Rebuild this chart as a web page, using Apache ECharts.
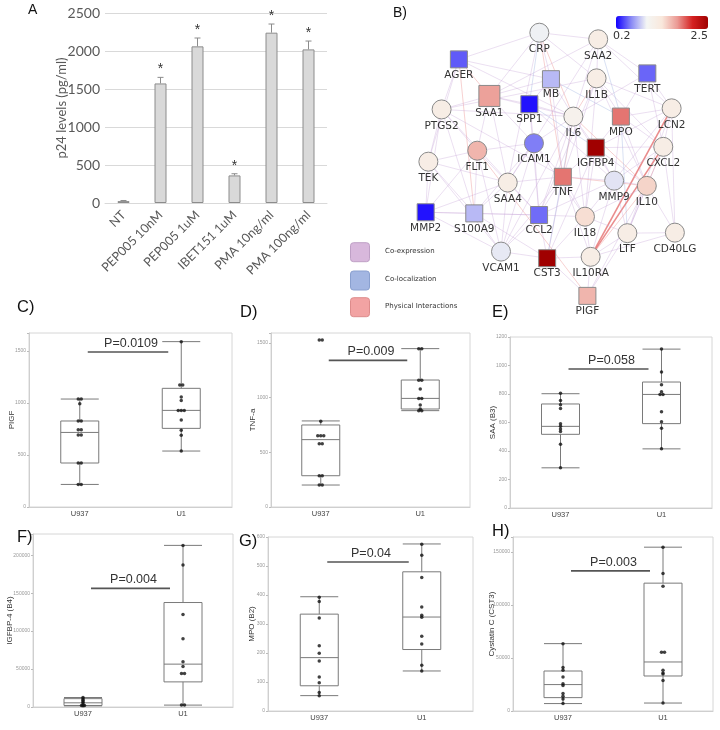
<!DOCTYPE html>
<html>
<head>
<meta charset="utf-8">
<script src="https://cdn.jsdelivr.net/npm/echarts@6/dist/echarts.min.js"></script>
<style>
  html, body { margin: 0; padding: 0; background: #fff; }
  #chart { width: 720px; height: 730px; }
</style>
</head>
<body>
<div id="chart"></div>
<script>
// ---------- A) p24 bar chart ----------
const aCats = ['NT', 'PEP005 10nM', 'PEP005 1uM', 'IBET151 1uM', 'PMA 10ng/ml', 'PMA 100ng/ml'];
const aP24 = [25, 1573, 2061, 363, 2241, 2021];
const aErr = [8, 80, 110, 22, 114, 110];
const aStar = [0, 1, 1, 1, 1, 1];

// ---------- B) gene network ----------
const geneNames = ['CRP', 'SAA2', 'AGER', 'MB', 'IL1B', 'TERT', 'SAA1', 'SPP1', 'PTGS2', 'IL6', 'MPO', 'LCN2',
  'ICAM1', 'IGFBP4', 'FLT1', 'TEK', 'CXCL2', 'TNF', 'SAA4', 'MMP9', 'IL10', 'MMP2', 'S100A9', 'CCL2', 'IL18',
  'LTF', 'CD40LG', 'VCAM1', 'CST3', 'IL10RA', 'PIGF'];
// layout units (0-100)
const geneX = [44.2, 66.0, 14.4, 48.5, 65.4, 84.2, 25.7, 40.5, 8.0, 56.8, 74.4, 93.2, 42.2, 65.1, 21.2, 3.1, 90.1,
  52.9, 32.5, 71.9, 84.0, 2.1, 20.1, 44.1, 61.1, 76.8, 94.4, 30.0, 47.1, 63.2, 62.0];
const geneY = [2.8, 5.2, 12.5, 19.7, 19.4, 17.6, 25.8, 28.8, 30.7, 33.3, 33.3, 30.3, 43.0, 44.6, 45.7, 49.7, 44.3,
  55.2, 57.3, 56.6, 58.5, 68.1, 68.5, 69.1, 69.7, 75.7, 75.5, 82.4, 84.8, 84.3, 98.5];
const geneFold = [0.95, 1.2, 0.45, 0.75, 1.2, 0.48, 1.7, 0.25, 1.2, 1.1, 1.85, 1.2, 0.55, 2.5, 1.6, 1.2, 1.2,
  1.85, 1.2, 0.9, 1.45, 0.25, 0.75, 0.5, 1.4, 1.2, 1.2, 0.92, 2.5, 1.2, 1.6];
// s = measured (square), c = network gene (circle)
const geneKind = ['c', 'c', 's', 's', 'c', 's', 's', 's', 'c', 'c', 's', 'c', 'c', 's', 'c', 'c', 'c',
  's', 'c', 'c', 'c', 's', 's', 's', 'c', 'c', 'c', 'c', 's', 'c', 's'];
const foldRange = [0.2, 2.5];
const edgeTypes = ['Co-expression', 'Co-localization', 'Physical Interactions'];
// e co-expression, l co-localization, p physical, P strong physical
const edgeList = [
  ['CRP','SAA1','e'],['CRP','SAA2','e'],['CRP','SAA4','e'],['CRP','IL6','p'],['CRP','MB','e'],['CRP','TNF','p'],['CRP','IL1B','e'],['CRP','AGER','e'],['CRP','SPP1','l'],
  ['SAA2','SAA1','e'],['SAA2','SAA4','e'],['SAA2','IL1B','e'],['SAA2','LCN2','e'],['SAA2','MPO','l'],['SAA2','TERT','e'],['SAA2','IL6','e'],
  ['AGER','SAA1','p'],['AGER','PTGS2','e'],['AGER','MB','e'],['AGER','TEK','e'],['AGER','S100A9','p'],['AGER','IL6','e'],
  ['MB','IL6','e'],['MB','SPP1','e'],['MB','TNF','e'],['MB','MPO','l'],['MB','SAA1','e'],
  ['IL1B','IL6','p'],['IL1B','TNF','e'],['IL1B','IL18','e'],['IL1B','PTGS2','e'],['IL1B','CXCL2','e'],['IL1B','IL10','e'],['IL1B','MPO','e'],['IL1B','LCN2','e'],['IL1B','CCL2','e'],
  ['TERT','LCN2','e'],['TERT','IL6','e'],['TERT','MPO','e'],['TERT','CXCL2','e'],
  ['SAA1','SAA4','e'],['SAA1','SPP1','e'],['SAA1','PTGS2','e'],['SAA1','FLT1','e'],['SAA1','ICAM1','e'],['SAA1','IL6','e'],
  ['SPP1','ICAM1','e'],['SPP1','CCL2','e'],['SPP1','IL6','e'],['SPP1','MMP9','e'],['SPP1','IGFBP4','l'],
  ['PTGS2','TEK','e'],['PTGS2','IL6','e'],['PTGS2','TNF','e'],['PTGS2','FLT1','e'],['PTGS2','CCL2','e'],['PTGS2','MMP2','e'],['PTGS2','S100A9','e'],
  ['IL6','TNF','p'],['IL6','IL10','p'],['IL6','CCL2','e'],['IL6','ICAM1','e'],['IL6','IGFBP4','e'],['IL6','MMP9','e'],['IL6','IL18','e'],['IL6','VCAM1','e'],['IL6','CST3','l'],
  ['MPO','LCN2','e'],['MPO','IGFBP4','e'],['MPO','CXCL2','e'],['MPO','MMP9','e'],['MPO','LTF','l'],['MPO','IL10','e'],
  ['LCN2','CXCL2','e'],['LCN2','IL10RA','P'],['LCN2','IGFBP4','e'],['LCN2','LTF','e'],['LCN2','CD40LG','e'],['LCN2','MMP9','e'],
  ['ICAM1','VCAM1','e'],['ICAM1','TNF','e'],['ICAM1','FLT1','e'],['ICAM1','CCL2','e'],['ICAM1','SAA4','e'],['ICAM1','IL18','e'],['ICAM1','S100A9','e'],
  ['IGFBP4','TNF','e'],['IGFBP4','MMP9','e'],['IGFBP4','IL10','e'],['IGFBP4','CST3','e'],['IGFBP4','IL18','e'],['IGFBP4','CXCL2','e'],
  ['FLT1','TEK','e'],['FLT1','SAA4','e'],['FLT1','MMP2','e'],['FLT1','VCAM1','e'],['FLT1','S100A9','e'],['FLT1','PIGF','p'],
  ['TEK','MMP2','e'],['TEK','S100A9','e'],['TEK','SAA4','e'],['TEK','VCAM1','e'],
  ['CXCL2','IL10','p'],['CXCL2','IL10RA','P'],['CXCL2','CD40LG','e'],['CXCL2','LTF','e'],['CXCL2','MMP9','e'],
  ['TNF','MMP9','e'],['TNF','IL10','p'],['TNF','CCL2','e'],['TNF','IL18','e'],['TNF','SAA4','e'],['TNF','CST3','e'],['TNF','IL10RA','e'],['TNF','VCAM1','e'],
  ['SAA4','S100A9','e'],['SAA4','CCL2','e'],['SAA4','VCAM1','e'],['SAA4','MMP2','e'],
  ['MMP9','IL10','e'],['MMP9','IL18','e'],['MMP9','LTF','e'],['MMP9','IL10RA','e'],['MMP9','CCL2','e'],
  ['IL10','LTF','e'],['IL10','CD40LG','e'],['IL10','IL10RA','p'],['IL10','IL18','e'],['IL10','PIGF','e'],
  ['MMP2','S100A9','e'],['MMP2','VCAM1','e'],['MMP2','CCL2','e'],
  ['S100A9','CCL2','e'],['S100A9','VCAM1','e'],['S100A9','CST3','e'],
  ['CCL2','IL18','e'],['CCL2','VCAM1','e'],['CCL2','CST3','e'],
  ['IL18','IL10RA','e'],['IL18','CST3','e'],['IL18','LTF','e'],
  ['LTF','CD40LG','e'],['LTF','IL10RA','e'],['LTF','PIGF','e'],
  ['CD40LG','IL10RA','e'],['VCAM1','CST3','e'],['CST3','IL10RA','e'],
  ['PIGF','IL10RA','e'],['PIGF','CST3','e']
];

// ---------- C)-H) box plots ----------
const boxGroups = ['U937', 'U1'];
const plgfU937 = [1038, 1038, 993, 827, 827, 743, 743, 692, 692, 423, 423, 217, 217];
const plgfU1 = [1590, 1173, 1173, 1058, 1025, 929, 929, 929, 837, 737, 689, 538];
const plgfBox = [[217, 423, 717, 827, 1038], [538, 756, 929, 1141, 1590]];

const tnfU937 = [1527, 1527, 785, 652, 652, 652, 579, 579, 286, 286, 201, 201];
const tnfU1 = [1448, 1448, 1160, 1160, 1079, 993, 993, 933, 895, 881, 881];
const tnfBox = [[201, 286, 616, 750, 787], [881, 896, 993, 1161, 1448]];

const saaU937 = [805, 755, 725, 699, 591, 573, 555, 536, 448, 282];
const saaU1 = [1115, 954, 865, 816, 797, 797, 676, 606, 559, 415];
const saaBox = [[282, 517, 573, 730, 802], [415, 592, 797, 884, 1115]];

const igfU937 = [12500, 10500, 9000, 7000, 5500, 3000, 2000, 2000, 1500];
const igfU1 = [213000, 187000, 122000, 90000, 59600, 53500, 44200, 44200, 2500, 2500];
const igfBox = [[1500, 2000, 5500, 11000, 12500], [2500, 33100, 56500, 137700, 213000]];

const mpoU937 = [392, 378, 321, 225, 199, 172, 117, 97, 64, 53];
const mpoU1 = [575, 537, 460, 359, 330, 323, 258, 231, 158, 138];
const mpoBox = [[53, 87, 184, 334, 394], [138, 212, 324, 480, 576]];

const cstU937 = [63500, 40900, 38400, 32100, 25800, 24000, 16400, 13900, 11300, 7000];
const cstU1 = [154400, 129600, 117600, 55400, 55400, 38400, 35800, 34900, 28700, 7500];
const cstBox = [[7000, 12600, 24900, 37700, 63500], [7500, 33000, 46200, 120500, 154400]];

const boxNames = ['PIGF', 'TNF-a', 'SAA (B3)', 'IGFBP-4 (B4)', 'MPO (B2)', 'Cystatin C (CST3)'];
const boxMax = [1673, 1591, 1200, 228000, 600, 164000];
const boxStep = [500, 500, 200, 50000, 100, 50000];
const pLabels = ['P=0.0109', 'P=0.009', 'P=0.058', 'P=0.004', 'P=0.04', 'P=0.003'];
const pLevels = [1490, 1341, 975, 156300, 514, 132100];

const boxData = [
  [plgfU937, plgfU1, plgfBox],
  [tnfU937, tnfU1, tnfBox],
  [saaU937, saaU1, saaBox],
  [igfU937, igfU1, igfBox],
  [mpoU937, mpoU1, mpoBox],
  [cstU937, cstU1, cstBox]
];

// ---------- layout ----------
const boxGrids = [
  { left: 29, top: 333, width: 203, height: 174, gap: 13 },
  { left: 271, top: 333, width: 199, height: 174, gap: 14 },
  { left: 510, top: 337, width: 202, height: 171, gap: 13 },
  { left: 33, top: 534, width: 200, height: 173, gap: 19 },
  { left: 268, top: 537, width: 205, height: 174, gap: 12 },
  { left: 513, top: 537, width: 200, height: 174, gap: 17 }
];
const panelTags = [
  ['A', 28, 3, 14], ['B)', 393, 6, 14], ['C)', 17, 299, 16.5], ['D)', 240, 304, 16.5], ['E)', 492, 304, 16.5],
  ['F)', 17, 529, 16.5], ['G)', 239, 533, 16.5], ['H)', 492, 523, 16.5]
];

// colour ramp for fold change (shared by nodes and the colour bar)
const rampStops = ['#1200ff', '#8a8af5', '#f4f6f4', '#f9e8dc', '#eb9a94', '#d42020', '#a00000'];
function hexRgb(h) { return [1, 3, 5].map(i => parseInt(h.slice(i, i + 2), 16)); }
function foldColor(v) {
  const t = Math.max(0, Math.min(1, (v - foldRange[0]) / (foldRange[1] - foldRange[0]))) * (rampStops.length - 1);
  const i = Math.min(rampStops.length - 2, Math.floor(t));
  const f = t - i;
  const a = hexRgb(rampStops[i]), b = hexRgb(rampStops[i + 1]);
  return 'rgb(' + a.map((c, k) => Math.round(c + (b[k] - c) * f)).join(',') + ')';
}

const sans = 'Liberation Sans';
const grids = [
  { left: 105, top: 13, width: 222, height: 190, outerBoundsMode: 'none' },
  { left: 420, top: 25, width: 270, height: 275, outerBoundsMode: 'none' }
];
const xAxes = [
  {
    gridIndex: 0, type: 'category', data: aCats,
    axisLine: { lineStyle: { color: '#d9d9d9' } }, axisTick: { show: false },
    axisLabel: { rotate: 45, interval: 0, fontSize: 12.5, color: '#595959', fontFamily: 'Lato', margin: 10 }
  },
  { gridIndex: 1, type: 'value', min: 0, max: 100, show: false }
];
const yAxes = [
  {
    gridIndex: 0, type: 'value', min: 0, max: 2500, interval: 500,
    axisLine: { show: false }, axisTick: { show: false },
    splitLine: { lineStyle: { color: '#d9d9d9' } },
    axisLabel: { fontSize: 14, color: '#595959', fontFamily: 'Lato', margin: 5, formatter: v => String(v) },
    name: 'p24 levels (pg/ml)', nameLocation: 'middle', nameGap: 37, nameMoveOverlap: false,
    nameTextStyle: { fontSize: 13, color: '#595959', fontFamily: 'Lato' }
  },
  { gridIndex: 1, type: 'value', min: 0, max: 100, inverse: true, show: false }
];

const series = [];
series.push({
  type: 'bar', xAxisIndex: 0, yAxisIndex: 0, data: aP24, barWidth: 12,
  itemStyle: { color: '#d9d9d9', borderColor: '#8c8c8c', borderWidth: 1 }, silent: true
});
series.push({
  type: 'custom', xAxisIndex: 0, yAxisIndex: 0, z: 3, silent: true,
  data: aP24.map((v, i) => [i, v, aErr[i], aStar[i]]),
  renderItem: function (params, api) {
    const base = api.coord([api.value(0), api.value(1)]);
    const top = api.coord([api.value(0), api.value(1) + api.value(2)]);
    const kids = [
      { type: 'line', shape: { x1: base[0], y1: base[1], x2: top[0], y2: top[1] }, style: { stroke: '#8c8c8c', lineWidth: 1 } },
      { type: 'line', shape: { x1: top[0] - 3, y1: top[1], x2: top[0] + 3, y2: top[1] }, style: { stroke: '#8c8c8c', lineWidth: 1 } }
    ];
    if (api.value(3)) {
      kids.push({ type: 'text', x: top[0], y: top[1] - 1,
        style: { text: '*', fontSize: 14, fontFamily: sans, fill: '#333', align: 'center', verticalAlign: 'bottom' } });
    }
    return { type: 'group', children: kids };
  }
});

// network
const edgeStyle = {
  e: { color: '#c6a3d6', width: 1, opacity: 0.35 },
  l: { color: '#9fb3e2', width: 1, opacity: 0.4 },
  p: { color: '#ee9a9a', width: 1, opacity: 0.45 },
  P: { color: '#e57070', width: 1.6, opacity: 0.8 }
};
series.push({
  type: 'graph', coordinateSystem: 'cartesian2d', xAxisIndex: 1, yAxisIndex: 1,
  silent: true, roam: false, animation: false,
  data: geneNames.map((n, i) => ({
    name: n, value: [geneX[i], geneY[i]],
    symbol: geneKind[i] === 's' ? 'rect' : 'circle',
    symbolSize: geneKind[i] === 's' ? (n === 'SAA1' ? 21 : 17) : 19,
    itemStyle: { color: foldColor(geneFold[i]) }
  })),
  links: edgeList.map(e => ({ source: e[0], target: e[1], lineStyle: edgeStyle[e[2]] })),
  itemStyle: { borderColor: '#8a8a8a', borderWidth: 1, opacity: 1 },
  label: { show: true, position: 'bottom', distance: 1, fontSize: 10.5, color: '#333', fontFamily: 'DejaVu Sans' },
  lineStyle: { curveness: 0 }
});
// empty carrier series for the colour bar
series.push({ type: 'scatter', xAxisIndex: 1, yAxisIndex: 1, data: [] });
const rampIndex = series.length - 1;

// box panels
function offsets(vals) {
  const counts = {}, seen = {};
  vals.forEach(v => { counts[v] = (counts[v] || 0) + 1; });
  return vals.map(v => {
    const k = seen[v] = (seen[v] || 0) + 1;
    return (k - 1 - (counts[v] - 1) / 2) * 3;
  });
}
boxData.forEach((d, p) => {
  const gi = p + 2;
  const g = boxGrids[p];
  grids.push({ left: g.left, top: g.top, width: g.width, height: g.height, show: true,
    borderColor: '#d6d6d6', borderWidth: 1, outerBoundsMode: 'none' });
  xAxes.push({
    gridIndex: gi, type: 'category', data: boxGroups,
    axisLine: { lineStyle: { color: '#cfcfcf' } }, axisTick: { show: false },
    axisLabel: { fontSize: 7.5, color: '#444', fontFamily: sans, margin: 3 }
  });
  const step = boxStep[p];
  yAxes.push({
    gridIndex: gi, type: 'value', min: 0, max: boxMax[p], interval: step,
    axisLine: { show: true, lineStyle: { color: '#cfcfcf' } },
    axisTick: { show: true, length: 2, lineStyle: { color: '#bbb' } },
    splitLine: { show: false },
    axisLabel: { fontSize: 5, color: '#999', fontFamily: sans, margin: 3,
      formatter: v => (v % step === 0 ? String(v) : '') },
    name: boxNames[p], nameLocation: 'middle', nameGap: g.gap, nameMoveOverlap: false,
    nameTextStyle: { fontSize: 8, color: '#333', fontFamily: sans }
  });
  series.push({
    type: 'boxplot', xAxisIndex: gi, yAxisIndex: gi, data: d[2], boxWidth: [38, 38], silent: true,
    itemStyle: { color: '#fff', borderColor: '#7a7a7a', borderWidth: 1 }
  });
  [d[0], d[1]].forEach((vals, k) => {
    const off = offsets(vals);
    series.push({
      type: 'scatter', xAxisIndex: gi, yAxisIndex: gi, symbolSize: 3.5, silent: true,
      itemStyle: { color: '#111' },
      data: vals.map((v, j) => ({ value: [k, v], symbolOffset: [off[j], 0] }))
    });
  });
  series.push({
    type: 'custom', xAxisIndex: gi, yAxisIndex: gi, silent: true, z: 4,
    data: [[0, pLevels[p]]],
    renderItem: function (params, api) {
      const a = api.coord([0, api.value(1)]);
      const b = api.coord([1, api.value(1)]);
      const x1 = a[0] + 8, x2 = b[0] - 13;
      return { type: 'group', children: [
        { type: 'line', shape: { x1: x1, y1: a[1], x2: x2, y2: a[1] }, style: { stroke: '#555', lineWidth: 1.6 } },
        { type: 'text', x: (x1 + x2) / 2 + 3, y: a[1] - 2,
          style: { text: pLabels[p], fontSize: 12.5, fontFamily: sans, fill: '#333', align: 'center', verticalAlign: 'bottom' } }
      ] };
    }
  });
});

const legendColors = ['#d8b8dc', '#a3b6e2', '#f2a3a3'];
const legendBorders = ['#bfa0c6', '#8aa0cf', '#dd8c8c'];
const graphic = [
  { type: 'text', left: 613, top: 31, style: { text: '0.2', fontSize: 11, fontFamily: 'DejaVu Sans', fill: '#333' } },
  { type: 'text', right: 12, top: 31, style: { text: '2.5', fontSize: 11, fontFamily: 'DejaVu Sans', fill: '#333' } }
];
edgeTypes.forEach((t, i) => {
  const cy = [251.7, 280, 306.7][i];
  graphic.push({ type: 'rect', left: 350, top: cy - 9.5,
    shape: { width: 19, height: 19, r: 3 }, style: { fill: legendColors[i], stroke: legendBorders[i], lineWidth: 1 } });
  graphic.push({ type: 'text', left: 385, top: cy - 4.5,
    style: { text: t, fontSize: 7, fontFamily: 'DejaVu Sans', fill: '#333' } });
});

const chart = echarts.init(document.getElementById('chart'), null, { renderer: 'canvas' });
chart.setOption({
  backgroundColor: '#fff',
  animation: false,
  title: panelTags.map(t => ({
    text: t[0], left: t[1], top: t[2], padding: 0,
    textStyle: { fontSize: t[3], fontWeight: 'normal', fontFamily: sans, color: '#111' }
  })),
  grid: grids,
  xAxis: xAxes,
  yAxis: yAxes,
  visualMap: {
    type: 'continuous', seriesIndex: rampIndex,
    min: foldRange[0], max: foldRange[1], orient: 'horizontal',
    left: 616, top: 16, itemWidth: 13, itemHeight: 92, calculable: false, text: null, padding: 0,
    inRange: { color: rampStops }
  },
  graphic: graphic,
  series: series
});
</script>
</body>
</html>
